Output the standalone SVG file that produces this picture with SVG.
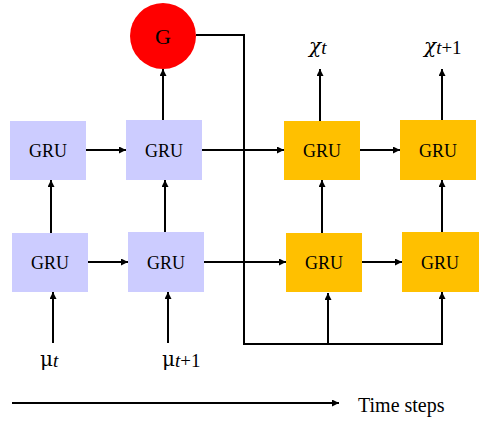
<svg xmlns="http://www.w3.org/2000/svg" width="490" height="426" viewBox="0 0 490 426">
<defs>
<marker id="ah" markerUnits="userSpaceOnUse" markerWidth="8" markerHeight="8" refX="7" refY="3.5" orient="auto">
<path d="M0,0 L7,3.5 L0,7 z" fill="#000"/>
</marker>
<style>
.blue{fill:#CCCCFF}
.orange{fill:#FFC000}
.lbl{font-family:"Liberation Serif","Times New Roman",serif;font-size:18px;fill:#000;text-anchor:middle}
.greek{font-family:"DejaVu Serif",serif;font-size:20px;fill:#000}
.sub{font-family:"Liberation Serif",serif;font-size:19px}
.c{fill:none;stroke:#000;stroke-width:2}
.a{fill:none;stroke:#000;stroke-width:2;marker-end:url(#ah)}
</style>
</defs>
<rect width="490" height="426" fill="#fff"/>
<g id="connectors">
<line class="a" x1="86" y1="150" x2="126" y2="150"/>
<line class="a" x1="202" y1="150" x2="284" y2="150"/>
<line class="a" x1="360" y1="150" x2="400" y2="150"/>
<line class="a" x1="88" y1="262" x2="128" y2="262"/>
<line class="a" x1="204" y1="262" x2="286" y2="262"/>
<line class="a" x1="362" y1="262" x2="402" y2="262"/>
<line class="a" x1="51" y1="233" x2="51" y2="180"/>
<line class="a" x1="165" y1="232" x2="165" y2="180"/>
<line class="a" x1="322" y1="233" x2="322" y2="180"/>
<line class="a" x1="442" y1="232" x2="442" y2="180"/>
<line class="a" x1="163" y1="120" x2="163" y2="69"/>
<line class="a" x1="320" y1="121" x2="320" y2="69"/>
<line class="a" x1="442" y1="120" x2="442" y2="69"/>
<line class="a" x1="53" y1="343" x2="53" y2="292"/>
<line class="a" x1="168" y1="343" x2="168" y2="292"/>
<polyline class="c" points="196,35 244,35 244,344 442,344"/>
<line class="a" x1="442" y1="345" x2="442" y2="292"/>
<line class="a" x1="328" y1="344" x2="328" y2="293"/>
<line class="a" x1="12" y1="403" x2="339" y2="403"/>
</g>
<g id="G">
<circle cx="163" cy="36" r="33" fill="#FF0000"/>
<text class="lbl" x="163" y="44" style="font-size:22px">G</text>
</g>
<g id="gru_u1"><rect class="blue" x="10" y="121" width="76" height="59"/><text class="lbl" x="48" y="157">GRU</text></g>
<g id="gru_u2"><rect class="blue" x="126" y="120" width="76" height="60"/><text class="lbl" x="164" y="157">GRU</text></g>
<g id="gru_u3"><rect class="orange" x="284" y="121" width="76" height="59"/><text class="lbl" x="322" y="157">GRU</text></g>
<g id="gru_u4"><rect class="orange" x="400" y="120" width="76" height="60"/><text class="lbl" x="438" y="157">GRU</text></g>
<g id="gru_l1"><rect class="blue" x="12" y="233" width="76" height="59"/><text class="lbl" x="50" y="269">GRU</text></g>
<g id="gru_l2"><rect class="blue" x="128" y="232" width="76" height="60"/><text class="lbl" x="166" y="269">GRU</text></g>
<g id="gru_l3"><rect class="orange" x="286" y="233" width="76" height="59"/><text class="lbl" x="324" y="269">GRU</text></g>
<g id="gru_l4"><rect class="orange" x="402" y="232" width="77" height="60"/><text class="lbl" x="440" y="269">GRU</text></g>
<g id="labels">
<text class="greek" x="309" y="53" style="font-style:italic">χ<tspan class="sub" dy="1" style="font-style:italic">t</tspan></text>
<text class="greek" x="424" y="53" style="font-style:italic">χ<tspan class="sub" dy="1" style="font-style:italic">t</tspan><tspan class="sub" style="font-style:normal">+1</tspan></text>
<text class="greek" x="40" y="366">μ<tspan class="sub" dy="1" style="font-style:italic">t</tspan></text>
<text class="greek" x="162" y="366">μ<tspan class="sub" dy="1" style="font-style:italic">t</tspan><tspan class="sub">+1</tspan></text>
<text x="358" y="412" style="font-family:'Liberation Serif','Times New Roman',serif;font-size:20px;fill:#000">Time steps</text>
</g>
</svg>
